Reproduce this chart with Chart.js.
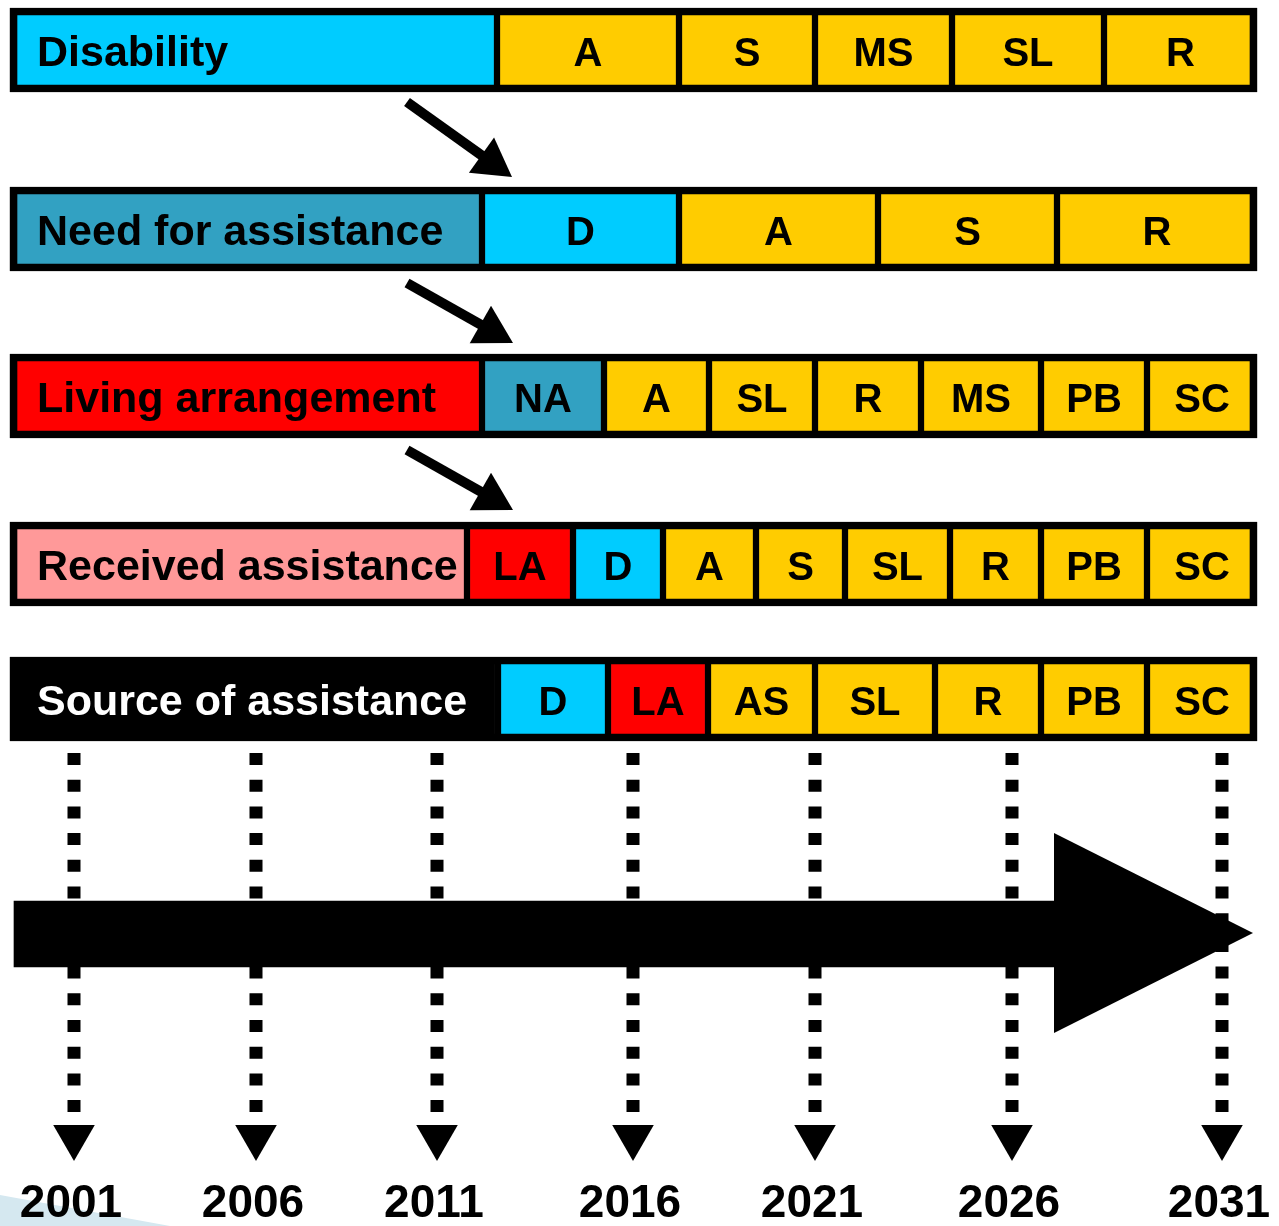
<!DOCTYPE html>
<html lang="en">
<head>
  <meta charset="UTF-8">
  <title>Panel waves timeline</title>
  <script src="https://cdn.jsdelivr.net/npm/chart.js"></script>
  <style>
    body { margin: 0; background: #fff; }
    canvas { display: block; }
  </style>
</head>
<body>
<canvas id="diagram" width="1279" height="1226"></canvas>

<script>
// rows of the diagram: title + the cells that follow it (edges are on the x axis)
const rowTitles = ['Disability', 'Need for assistance', 'Living arrangement', 'Received assistance', 'Source of assistance'];
const rowY = [50, 229, 396, 564, 699];

const disabilityCells = ['A', 'S', 'MS', 'SL', 'R'];
const disabilityEdges = [10, 497, 679, 815, 952, 1104, 1257];
const needCells = ['D', 'A', 'S', 'R'];
const needEdges = [10, 482, 679, 878, 1057, 1257];
const livingCells = ['NA', 'A', 'SL', 'R', 'MS', 'PB', 'SC'];
const livingEdges = [10, 482, 604, 709, 815, 921, 1041, 1147, 1257];
const receivedCells = ['LA', 'D', 'A', 'S', 'SL', 'R', 'PB', 'SC'];
const receivedEdges = [10, 467, 573, 663, 756, 845, 950, 1041, 1147, 1257];
const sourceCells = ['D', 'LA', 'AS', 'SL', 'R', 'PB', 'SC'];
const sourceEdges = [10, 498, 608, 708, 815, 935, 1041, 1147, 1257];

// links between rows
const linkFrom = [[407, 102], [407, 283], [407, 450]];
const linkTo = [[512, 177], [513, 343], [513, 510]];

// timeline
const years = ['2001', '2006', '2011', '2016', '2021', '2026', '2031'];
const yearX = [74, 256, 437, 633, 815, 1012, 1222];
const dropTop = 753, dropBottom = 1112, dropTip = 1161, yearBase = 1217;
const timeShaft = [14, 1056], timeShaftY = 934;
const timeHeadX = [1054, 1253], timeHeadTop = 833, timeHeadBottom = 1033;

const titleColors = ['#00CCFF', '#32A1C2', '#FF0000', '#FF9999', '#000000'];
const codeColors = { D: '#00CCFF', NA: '#32A1C2', LA: '#FF0000' };
const GOLD = '#FFCC00';
const FONT = '"Liberation Sans", Arial, sans-serif';

const rows = [
  { cells: disabilityCells, edges: disabilityEdges },
  { cells: needCells, edges: needEdges },
  { cells: livingCells, edges: livingEdges },
  { cells: receivedCells, edges: receivedEdges },
  { cells: sourceCells, edges: sourceEdges }
];

function segs(edges, y) {
  return edges.slice(0, -1).map((e, i) => ({ x: [e, edges[i + 1]], y: y }));
}

const datasets = [];

// cells of each row (indices 0..4, used by the label plugin)
rows.forEach((row, r) => {
  datasets.push({
    type: 'bar', indexAxis: 'y', grouped: false, order: 3,
    data: segs(row.edges, rowY[r]),
    backgroundColor: [titleColors[r]].concat(row.cells.map(c => codeColors[c] || GOLD)),
    borderColor: '#000', borderWidth: 3.5, borderSkipped: false,
    barThickness: 84
  });
});

// outer frame of each row
datasets.push({
  type: 'bar', indexAxis: 'y', grouped: false, order: 2,
  data: rows.map((row, r) => ({ x: [row.edges[0], row.edges[row.edges.length - 1]], y: rowY[r] })),
  backgroundColor: 'rgba(0,0,0,0)',
  borderColor: '#000', borderWidth: 7, borderSkipped: false,
  barThickness: 84
});

// diagonal arrows between rows
linkFrom.forEach((p, i) => {
  const q = linkTo[i];
  const dx = q[0] - p[0], dy = q[1] - p[1];
  const len = Math.hypot(dx, dy);
  const ux = dx / len, uy = dy / len;
  datasets.push({
    type: 'line', indexAxis: 'x', order: 4,
    data: [{ x: p[0], y: p[1] }, { x: q[0] - ux * 30, y: q[1] - uy * 30 }],
    borderColor: '#000', borderWidth: 10, borderCapStyle: 'butt',
    pointRadius: 0, fill: false
  });
  datasets.push({
    type: 'line', indexAxis: 'x', order: 4, showLine: false,
    data: [{ x: q[0] - ux * 25, y: q[1] - uy * 25 }],
    pointStyle: 'triangle', pointRadius: 25,
    pointRotation: Math.atan2(ux, -uy) * 180 / Math.PI,
    pointBackgroundColor: '#000', pointBorderWidth: 0
  });
});

// faint corner shape at the bottom left
datasets.push({
  type: 'line', indexAxis: 'x', order: 12,
  data: [{ x: 0, y: 1195 }, { x: 170, y: 1226 }],
  borderWidth: 0, pointRadius: 0,
  backgroundColor: '#D5E8F0', fill: { value: 1226 }
});

// dotted drop lines
yearX.forEach(x => {
  datasets.push({
    type: 'line', indexAxis: 'x', order: 10,
    data: [{ x: x, y: dropTop }, { x: x, y: dropBottom }],
    borderColor: '#000', borderWidth: 13, borderDash: [12, 14.7], borderCapStyle: 'butt',
    pointRadius: 0, fill: false
  });
});

// arrow heads under the drop lines
datasets.push({
  type: 'line', indexAxis: 'x', order: 9, showLine: false,
  data: yearX.map(x => ({ x: x, y: dropTip - 24 })),
  pointStyle: 'triangle', pointRadius: 24, pointRotation: 180,
  pointBackgroundColor: '#000', pointBorderWidth: 0
});

// big time arrow: shaft + head
datasets.push({
  type: 'bar', indexAxis: 'y', grouped: false, order: 5,
  data: [{ x: timeShaft, y: timeShaftY }],
  backgroundColor: '#000', borderWidth: 0, barThickness: 66
});
datasets.push({
  type: 'line', indexAxis: 'x', order: 5,
  data: [{ x: timeHeadX[0], y: timeHeadTop }, { x: timeHeadX[1], y: timeShaftY - 1 }],
  borderWidth: 0, pointRadius: 0, backgroundColor: '#000', fill: '+1'
});
datasets.push({
  type: 'line', indexAxis: 'x', order: 5,
  data: [{ x: timeHeadX[0], y: timeHeadBottom }, { x: timeHeadX[1], y: timeShaftY - 1 }],
  borderWidth: 0, pointRadius: 0, fill: false
});

const labelPlugin = {
  id: 'cellLabels',
  afterDatasetsDraw(chart) {
    const ctx = chart.ctx;
    ctx.save();
    ctx.textBaseline = 'alphabetic';
    rows.forEach((row, r) => {
      chart.getDatasetMeta(r).data.forEach((bar, j) => {
        const left = Math.min(bar.x, bar.base), right = Math.max(bar.x, bar.base);
        if (j === 0) {
          ctx.font = 'bold 43px ' + FONT;
          ctx.textAlign = 'left';
          ctx.fillStyle = r === 4 ? '#fff' : '#000';
          ctx.fillText(rowTitles[r], left + 27, bar.y + 16);
        } else {
          ctx.font = 'bold 40px ' + FONT;
          ctx.textAlign = 'center';
          ctx.fillStyle = '#000';
          ctx.fillText(row.cells[j - 1], (left + right) / 2, bar.y + 16);
        }
      });
    });
    const xs = chart.scales.x, ys = chart.scales.y;
    ctx.font = 'bold 46px ' + FONT;
    ctx.textAlign = 'center';
    ctx.fillStyle = '#000';
    years.forEach((t, i) => ctx.fillText(t, xs.getPixelForValue(yearX[i]) - 3, ys.getPixelForValue(yearBase)));
    ctx.restore();
  }
};

new Chart(document.getElementById('diagram'), {
  type: 'bar',
  data: { datasets: datasets },
  options: {
    responsive: false,
    animation: false,
    devicePixelRatio: 1,
    layout: { padding: 0, autoPadding: false },
    scales: {
      x: { type: 'linear', min: 0, max: 1279, display: false, offset: false },
      y: { type: 'linear', min: 0, max: 1226, reverse: true, display: false, offset: false }
    },
    plugins: { legend: { display: false }, tooltip: { enabled: false } }
  },
  plugins: [labelPlugin]
});
</script>
</body>
</html>
